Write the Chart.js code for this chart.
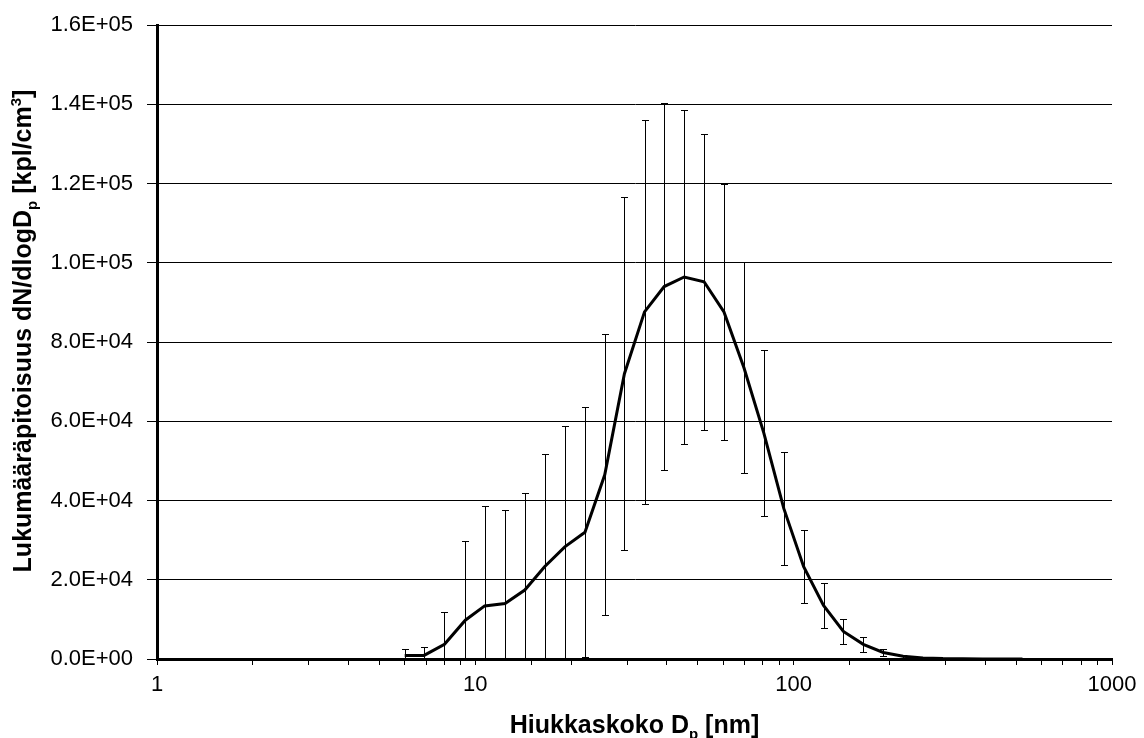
<!DOCTYPE html>
<html>
<head>
<meta charset="utf-8">
<script src="https://cdn.jsdelivr.net/npm/chart.js@4.4.1/dist/chart.umd.min.js"></script>
<style>
  body { margin: 0; background: #fff; }
</style>
</head>
<body>
<canvas id="chart" width="1144" height="738"></canvas>
<script>
// Hiukkaskoko (nm), keskiarvo ja keskihajonta
const diameters = [6.0, 6.9, 8.0, 9.3, 10.7, 12.4, 14.3, 16.5, 19.1, 22.1, 25.5, 29.4, 34.0, 39.2, 45.3, 52.3,
  60.4, 69.8, 80.6, 93.1, 107.5, 124.1, 143.3, 165.5, 191.1, 220.7, 254.8, 294.3, 339.8, 392.4, 453.1, 523.3];
const meanConc = [900, 900, 3700, 9800, 13400, 14000, 17400, 23300, 28300, 32000, 46500, 72000, 87600, 94000, 96400, 95200,
  87600, 73500, 57000, 38000, 23300, 13500, 6950, 3700, 1650, 700, 280, 100, 40, 20, 10, 5];
const stdDev = [1600, 2200, 8100, 20000, 25100, 23500, 24600, 28500, 30500, 31500, 35500, 44500, 48400, 46200, 42100, 37300,
  32300, 26600, 21000, 14200, 9200, 5600, 3250, 1900, 850, 400, 150, 60, 0, 0, 0, 0];

const xTickLabels = ['1', '10', '100', '1000'];
const yTickLabels = ['0.0E+00', '2.0E+04', '4.0E+04', '6.0E+04', '8.0E+04', '1.0E+05', '1.2E+05', '1.4E+05', '1.6E+05'];

const FONT = '"Liberation Sans", Arial, sans-serif';

// virhepalkit piirretään ennen käyrää
const errorBars = {
  id: 'errorBars',
  beforeDatasetsDraw(chart) {
    const { ctx, chartArea, scales: { x, y } } = chart;
    ctx.save();
    ctx.beginPath();
    ctx.rect(chartArea.left, chartArea.top, chartArea.width, chartArea.height);
    ctx.clip();
    ctx.strokeStyle = '#000';
    ctx.lineWidth = 1;
    diameters.forEach((d, i) => {
      const e = stdDev[i];
      if (!e) return;
      const hi = meanConc[i] + e;
      const lo = meanConc[i] - e;
      const px = Math.round(x.getPixelForValue(d)) + 0.5;
      const pyHi = Math.round(y.getPixelForValue(hi)) + 0.5;
      const pyLo = Math.round(y.getPixelForValue(Math.max(lo, 0))) + 0.5;
      ctx.beginPath();
      ctx.moveTo(px, pyHi);
      ctx.lineTo(px, pyLo);
      ctx.moveTo(px - 3.5, pyHi);
      ctx.lineTo(px + 3.5, pyHi);
      if (lo >= 0) {
        ctx.moveTo(px - 3.5, pyLo);
        ctx.lineTo(px + 3.5, pyLo);
      }
      ctx.stroke();
    });
    ctx.restore();
  }
};

// teksti ala- ja yläindekseillä
function drawRich(ctx, parts, cx, cy) {
  const big = 'bold 25px ' + FONT;
  const small = 'bold 15px ' + FONT;
  let total = 0;
  parts.forEach(p => {
    ctx.font = p.sub || p.sup ? small : big;
    total += ctx.measureText(p.t).width;
  });
  let x = cx - total / 2;
  parts.forEach(p => {
    ctx.font = p.sub || p.sup ? small : big;
    const dy = p.sub ? 6 : (p.sup ? -10 : 0);
    ctx.fillText(p.t, x, cy + dy);
    x += ctx.measureText(p.t).width;
  });
}

const axisTitles = {
  id: 'axisTitles',
  afterDraw(chart) {
    const { ctx, chartArea } = chart;
    ctx.save();
    ctx.fillStyle = '#000';
    ctx.textAlign = 'left';
    ctx.textBaseline = 'alphabetic';
    drawRich(ctx, [{ t: 'Hiukkaskoko D' }, { t: 'p', sub: true }, { t: ' [nm]' }],
      (chartArea.left + chartArea.right) / 2, 733);
    ctx.translate(31, 331);
    ctx.rotate(-Math.PI / 2);
    drawRich(ctx, [{ t: 'Lukumääräpitoisuus dN/dlogD' }, { t: 'p', sub: true }, { t: ' [kpl/cm' },
      { t: '3', sup: true }, { t: ']' }], 0, 0);
    ctx.restore();
  }
};

new Chart(document.getElementById('chart'), {
  type: 'line',
  data: {
    datasets: [{
      data: diameters.map((d, i) => ({ x: d, y: meanConc[i] })),
      borderColor: '#000',
      borderWidth: 3,
      pointRadius: 0,
      tension: 0,
      fill: false
    }]
  },
  options: {
    responsive: false,
    animation: false,
    layout: { padding: { top: 24, right: 32, left: 0, bottom: 0 } },
    plugins: { legend: { display: false }, tooltip: { enabled: false } },
    scales: {
      x: {
        type: 'logarithmic',
        min: 1,
        max: 1000,
        afterFit: s => { s.height = 79; },
        border: { display: true, color: '#000', width: 3 },
        grid: { drawOnChartArea: false, drawTicks: true, tickLength: 6, color: '#000' },
        ticks: {
          autoSkip: false,
          maxRotation: 0,
          padding: 7,
          color: '#000',
          font: { family: FONT, size: 22 },
          callback: v => xTickLabels.includes(String(v)) ? String(v) : ''
        }
      },
      y: {
        min: 0,
        max: 160000,
        afterFit: s => { s.width = 157; },
        border: { display: true, color: '#000', width: 3 },
        grid: { color: '#000', lineWidth: 1, tickLength: 10 },
        ticks: {
          stepSize: 20000,
          padding: 14,
          color: '#000',
          font: { family: FONT, size: 22, lineHeight: 1 },
          callback: (v, i) => yTickLabels[i]
        }
      }
    }
  },
  plugins: [errorBars, axisTitles]
});
</script>
</body>
</html>
